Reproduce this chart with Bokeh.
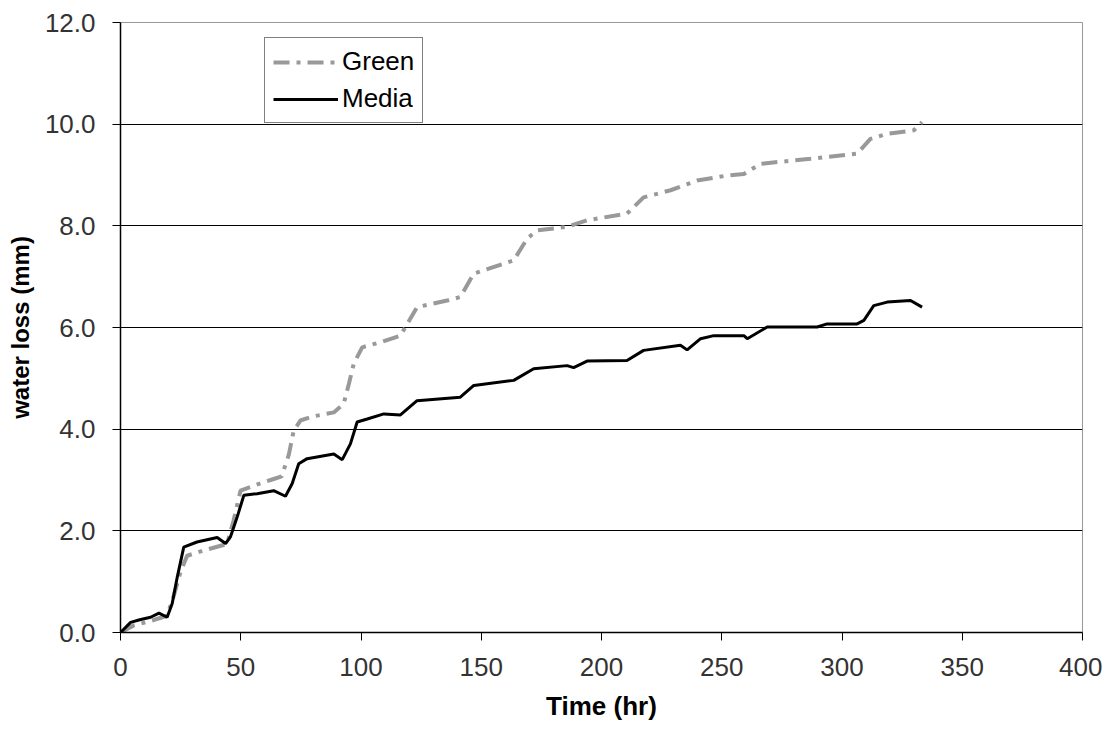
from bokeh.plotting import figure
from bokeh.models import FixedTicker, NumeralTickFormatter, Range1d, Legend, LegendItem
from bokeh.embed import file_html
from bokeh.resources import INLINE

# Media (black solid)
media_t = [0, 4.2, 8, 12.5, 16, 19.4, 21.5, 23.6, 26.3, 31.8, 40.2, 43.7, 45.7, 48.5, 51.3, 56.8,
           63.7, 68.6, 71.4, 74.1, 77.6, 88.7, 92.2, 95.6, 98.4, 102.6, 109.5, 116.4, 123.3,
           141.3, 146.9, 163.5, 171.8, 185.7, 188.4, 194, 210.6, 217.5, 232.8, 235.6, 241.2,
           246.7, 259.2, 260.6, 268.9, 289.7, 293.8, 306.3, 309.1, 313.2, 318.8, 328.5, 333.3]
media_v = [0.0, 0.20, 0.25, 0.30, 0.38, 0.30, 0.57, 1.09, 1.68, 1.78, 1.87, 1.75, 1.88, 2.27, 2.70,
           2.73, 2.79, 2.68, 2.93, 3.32, 3.42, 3.51, 3.40, 3.71, 4.14, 4.20, 4.30, 4.28, 4.56,
           4.63, 4.86, 4.96, 5.19, 5.25, 5.21, 5.34, 5.35, 5.55, 5.65, 5.56, 5.78,
           5.84, 5.84, 5.78, 6.01, 6.01, 6.07, 6.07, 6.14, 6.43, 6.50, 6.53, 6.40]

# Green (gray dashed)
green_t = [0, 5.5, 12, 19.4, 22, 25, 27.7, 35, 44.3, 47, 49.9, 56, 63.7, 67, 70, 72, 74.8, 80,
           88.7, 92.8, 95, 97, 100.5, 108, 116.4, 119.2, 123.3, 135.8, 141.3, 146.9, 163.5,
           169.1, 173.2, 185.7, 194, 210.6, 217.5, 228.7, 239.7, 252.2, 259.2, 266.1, 286.9,
           306.3, 311.8, 318.8, 329.9, 333.3]
green_v = [0.0, 0.14, 0.22, 0.33, 0.70, 1.20, 1.51, 1.62, 1.74, 2.20, 2.79, 2.90, 3.02, 3.07, 3.50,
           3.97, 4.17, 4.25, 4.33, 4.50, 4.90, 5.29, 5.61, 5.71, 5.84, 6.07, 6.40, 6.53, 6.60,
           7.06, 7.32, 7.75, 7.91, 7.98, 8.11, 8.24, 8.56, 8.70, 8.89, 8.99, 9.02, 9.22, 9.32,
           9.42, 9.71, 9.81, 9.88, 10.04]

x_ticks = [0, 50, 100, 150, 200, 250, 300, 350, 400]
y_ticks = [0, 2, 4, 6, 8, 10, 12]
grid_ticks = [2, 4, 6, 8, 10]

FONT = "Liberation Sans"

p = figure(width=1102, height=729, output_backend="svg", toolbar_location=None,
           x_range=Range1d(0, 400), y_range=Range1d(0, 12),
           min_border_left=120, min_border_right=20, min_border_top=22, min_border_bottom=97)

p.background_fill_color = "white"
p.border_fill_color = "white"
p.outline_line_color = "#999999"
p.outline_line_width = 1

p.xgrid.visible = False
p.ygrid.ticker = FixedTicker(ticks=grid_ticks)
p.ygrid.grid_line_color = "black"
p.ygrid.grid_line_width = 1.2

for ax in (p.xaxis[0], p.yaxis[0]):
    ax.axis_line_color = "black"
    ax.axis_line_width = 1.5
    ax.major_tick_line_color = "black"
    ax.major_tick_out = 8
    ax.major_tick_in = 0
    ax.minor_tick_line_color = None
    ax.major_label_text_font = FONT
    ax.major_label_text_font_size = "26px"
    ax.major_label_text_color = "#333333"
    ax.axis_label_text_font = FONT
    ax.axis_label_text_font_style = "bold"
    ax.axis_label_text_color = "black"

p.xaxis.axis_label_text_font_size = "26px"
p.yaxis.axis_label_text_font_size = "24px"
p.xaxis.ticker = FixedTicker(ticks=x_ticks)
p.yaxis.ticker = FixedTicker(ticks=y_ticks)
p.yaxis.formatter = NumeralTickFormatter(format="0.0")
p.xaxis.axis_label = "Time (hr)"
p.yaxis.axis_label = "water loss (mm)"
p.xaxis.major_label_standoff = 17
p.yaxis.major_label_standoff = 17
p.xaxis.axis_label_standoff = 12
p.yaxis.axis_label_standoff = 8

g = p.line(green_t, green_v, line_color="#999999", line_width=4, line_dash="16 7 4 7")
m = p.line(media_t, media_v, line_color="black", line_width=3)

legend = Legend(items=[LegendItem(label="Green", renderers=[g]),
                       LegendItem(label="Media", renderers=[m])],
                location=(144, 509))
legend.border_line_color = "black"
legend.border_line_width = 1.5
legend.background_fill_color = "white"
legend.background_fill_alpha = 1
legend.label_text_font = FONT
legend.label_text_font_size = "26px"
legend.label_text_color = "black"
legend.glyph_width = 65
legend.glyph_height = 30
legend.label_height = 30
legend.label_standoff = 4
legend.spacing = 6
legend.padding = 8
legend.margin = 0
p.add_layout(legend, "center")

open("out.html", "w").write(file_html(p, INLINE))
